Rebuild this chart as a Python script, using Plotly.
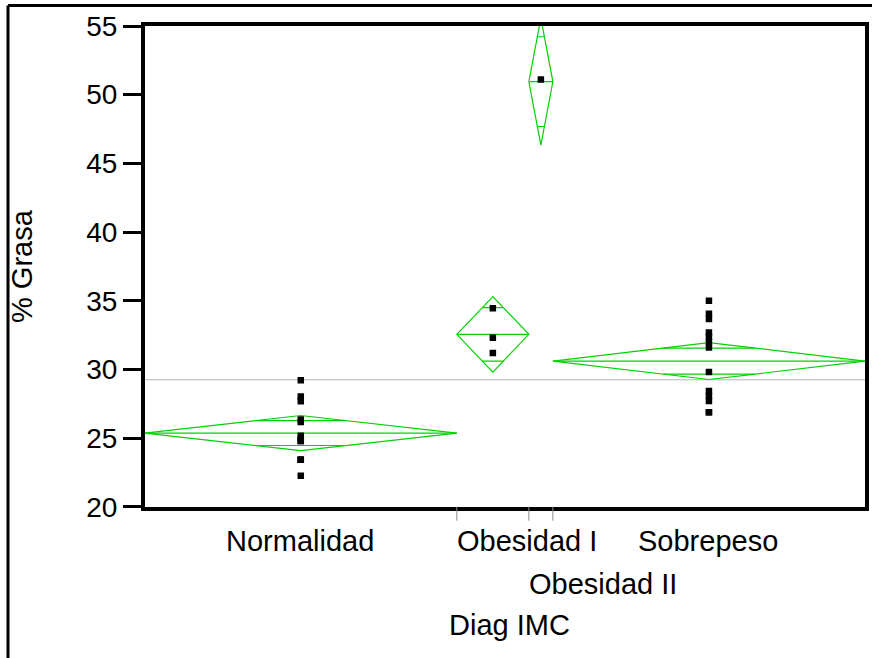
import math
import plotly.graph_objects as go

# Groups of the body-mass-index diagnosis and their sample sizes
groups = ["Normalidad", "Obesidad I", "Obesidad II", "Sobrepeso"]
counts = [13, 3, 1, 13]

# Group means and 95% confidence half-widths of % body fat
group_means = [25.36, 32.55, 50.95, 30.60]
ci_half = [1.28, 2.75, 4.62, 1.34]
grand_mean = 29.24

# Individual observations (% Grasa) per group
grasa_normalidad = [29.21, 28.02, 27.68, 26.35, 26.16, 25.16, 24.97,
                    24.78, 24.78, 23.41, 23.41, 23.41, 22.25]
grasa_obesidad_1 = [34.45, 32.30, 31.20]
grasa_obesidad_2 = [51.10]
grasa_sobrepeso = [35.00, 34.04, 33.67, 32.68, 32.37, 32.00, 31.59,
                   29.80, 28.43, 28.07, 27.70, 26.88, 26.88]
observations = [grasa_normalidad, grasa_obesidad_1, grasa_obesidad_2, grasa_sobrepeso]

y_ticks = [20, 25, 30, 35, 40, 45, 50, 55]

W, H = 872, 658
GREEN = "rgb(0,210,0)"
FONT = "Liberation Sans, Arial, sans-serif"

total = sum(counts)
starts = [sum(counts[:i]) for i in range(len(counts))]

fig = go.Figure()

# Means diamonds: outline, mean line and overlap marks
dx, dy = [], []
for x0, n, m, h in zip(starts, counts, group_means, ci_half):
    x1 = x0 + n
    xc = x0 + n / 2
    dx += [x0, xc, x1, xc, x0, None, x0, x1, None]
    dy += [m, m + h, m, m - h, m, None, m, m, None]
    off = h / math.sqrt(2)
    half = (n / 2) * (1 - 1 / math.sqrt(2))
    for sgn in (1, -1):
        dx += [xc - half, xc + half, None]
        dy += [m + sgn * off, m + sgn * off, None]

# Grand mean reference line
fig.add_trace(go.Scatter(x=[0, total], y=[grand_mean, grand_mean], mode="lines",
                         line=dict(color="#b4b4b4", width=1), hoverinfo="skip",
                         showlegend=False))
fig.add_trace(go.Scatter(x=dx, y=dy, mode="lines",
                         line=dict(color=GREEN, width=1.2), hoverinfo="skip",
                         showlegend=False))

# Observations drawn at the centre of each group's band
for x0, n, vals, name in zip(starts, counts, observations, groups):
    fig.add_trace(go.Scatter(x=[x0 + n / 2] * len(vals), y=vals, mode="markers",
                             marker=dict(symbol="square", size=6.5, color="black"),
                             name=name, showlegend=False))

x_dom = [144.7 / W, 865 / W]
y_dom = [1 - 506.7 / H, 1 - 26 / H]

# Group separators on the category axis
shapes = []
for b in starts[1:]:
    shapes.append(dict(type="line", xref="x", yref="paper", x0=b, x1=b,
                       y0=y_dom[0], y1=y_dom[0] - 14 / H,
                       line=dict(color="#8c8c8c", width=1)))
# Outer frame (top and left)
shapes.append(dict(type="line", xref="paper", yref="paper", x0=8 / W, x1=1,
                   y0=1 - 5.5 / H, y1=1 - 5.5 / H, line=dict(color="black", width=3)))
shapes.append(dict(type="line", xref="paper", yref="paper", x0=8 / W, x1=8 / W,
                   y0=0, y1=1 - 5.5 / H, line=dict(color="black", width=3)))

# Category labels: wide bands centred, narrow bands start at the band edge
annotations = []
label_rows = [0, 0, 1, 0]
for x0, n, name, row in zip(starts, counts, groups, label_rows):
    narrow = n < 5
    annotations.append(dict(
        x=x0 if narrow else x0 + n / 2, xref="x",
        y=1 - (541 + 43 * row) / H, yref="paper",
        text=name, showarrow=False, xanchor="left" if narrow else "center",
        yanchor="middle", xshift=-2 if narrow else -1,
        font=dict(size=29, color="black", family=FONT)))
annotations.append(dict(x=509 / W, y=1 - 625 / H, xref="paper", yref="paper",
                        text="Diag IMC", showarrow=False, xanchor="center",
                        yanchor="middle", font=dict(size=29, color="black", family=FONT)))
annotations.append(dict(x=22 / W, y=1 - 266 / H, xref="paper", yref="paper",
                        text="% Grasa", showarrow=False, textangle=-90,
                        xanchor="center", yanchor="middle",
                        font=dict(size=29, color="black", family=FONT)))

fig.update_layout(
    width=W, height=H,
    margin=dict(l=0, r=0, t=0, b=0),
    paper_bgcolor="white", plot_bgcolor="white",
    font=dict(family=FONT, color="black"),
    shapes=shapes, annotations=annotations,
    xaxis=dict(domain=x_dom, range=[0, total], showticklabels=False, ticks="",
               showgrid=False, zeroline=False, showline=True, mirror=True,
               linecolor="black", linewidth=3.5, automargin=False, fixedrange=True),
    yaxis=dict(domain=y_dom, range=[20, 55], tickvals=y_ticks,
               ticktext=[str(v) for v in y_ticks], ticks="outside", ticklen=18,
               tickwidth=3, tickcolor="black", showgrid=False, zeroline=False,
               showline=True, mirror=True, linecolor="black", linewidth=3.5,
               tickfont=dict(size=28, color="black", family=FONT),
               automargin=False, fixedrange=True),
)

fig.write_html("out.html")
